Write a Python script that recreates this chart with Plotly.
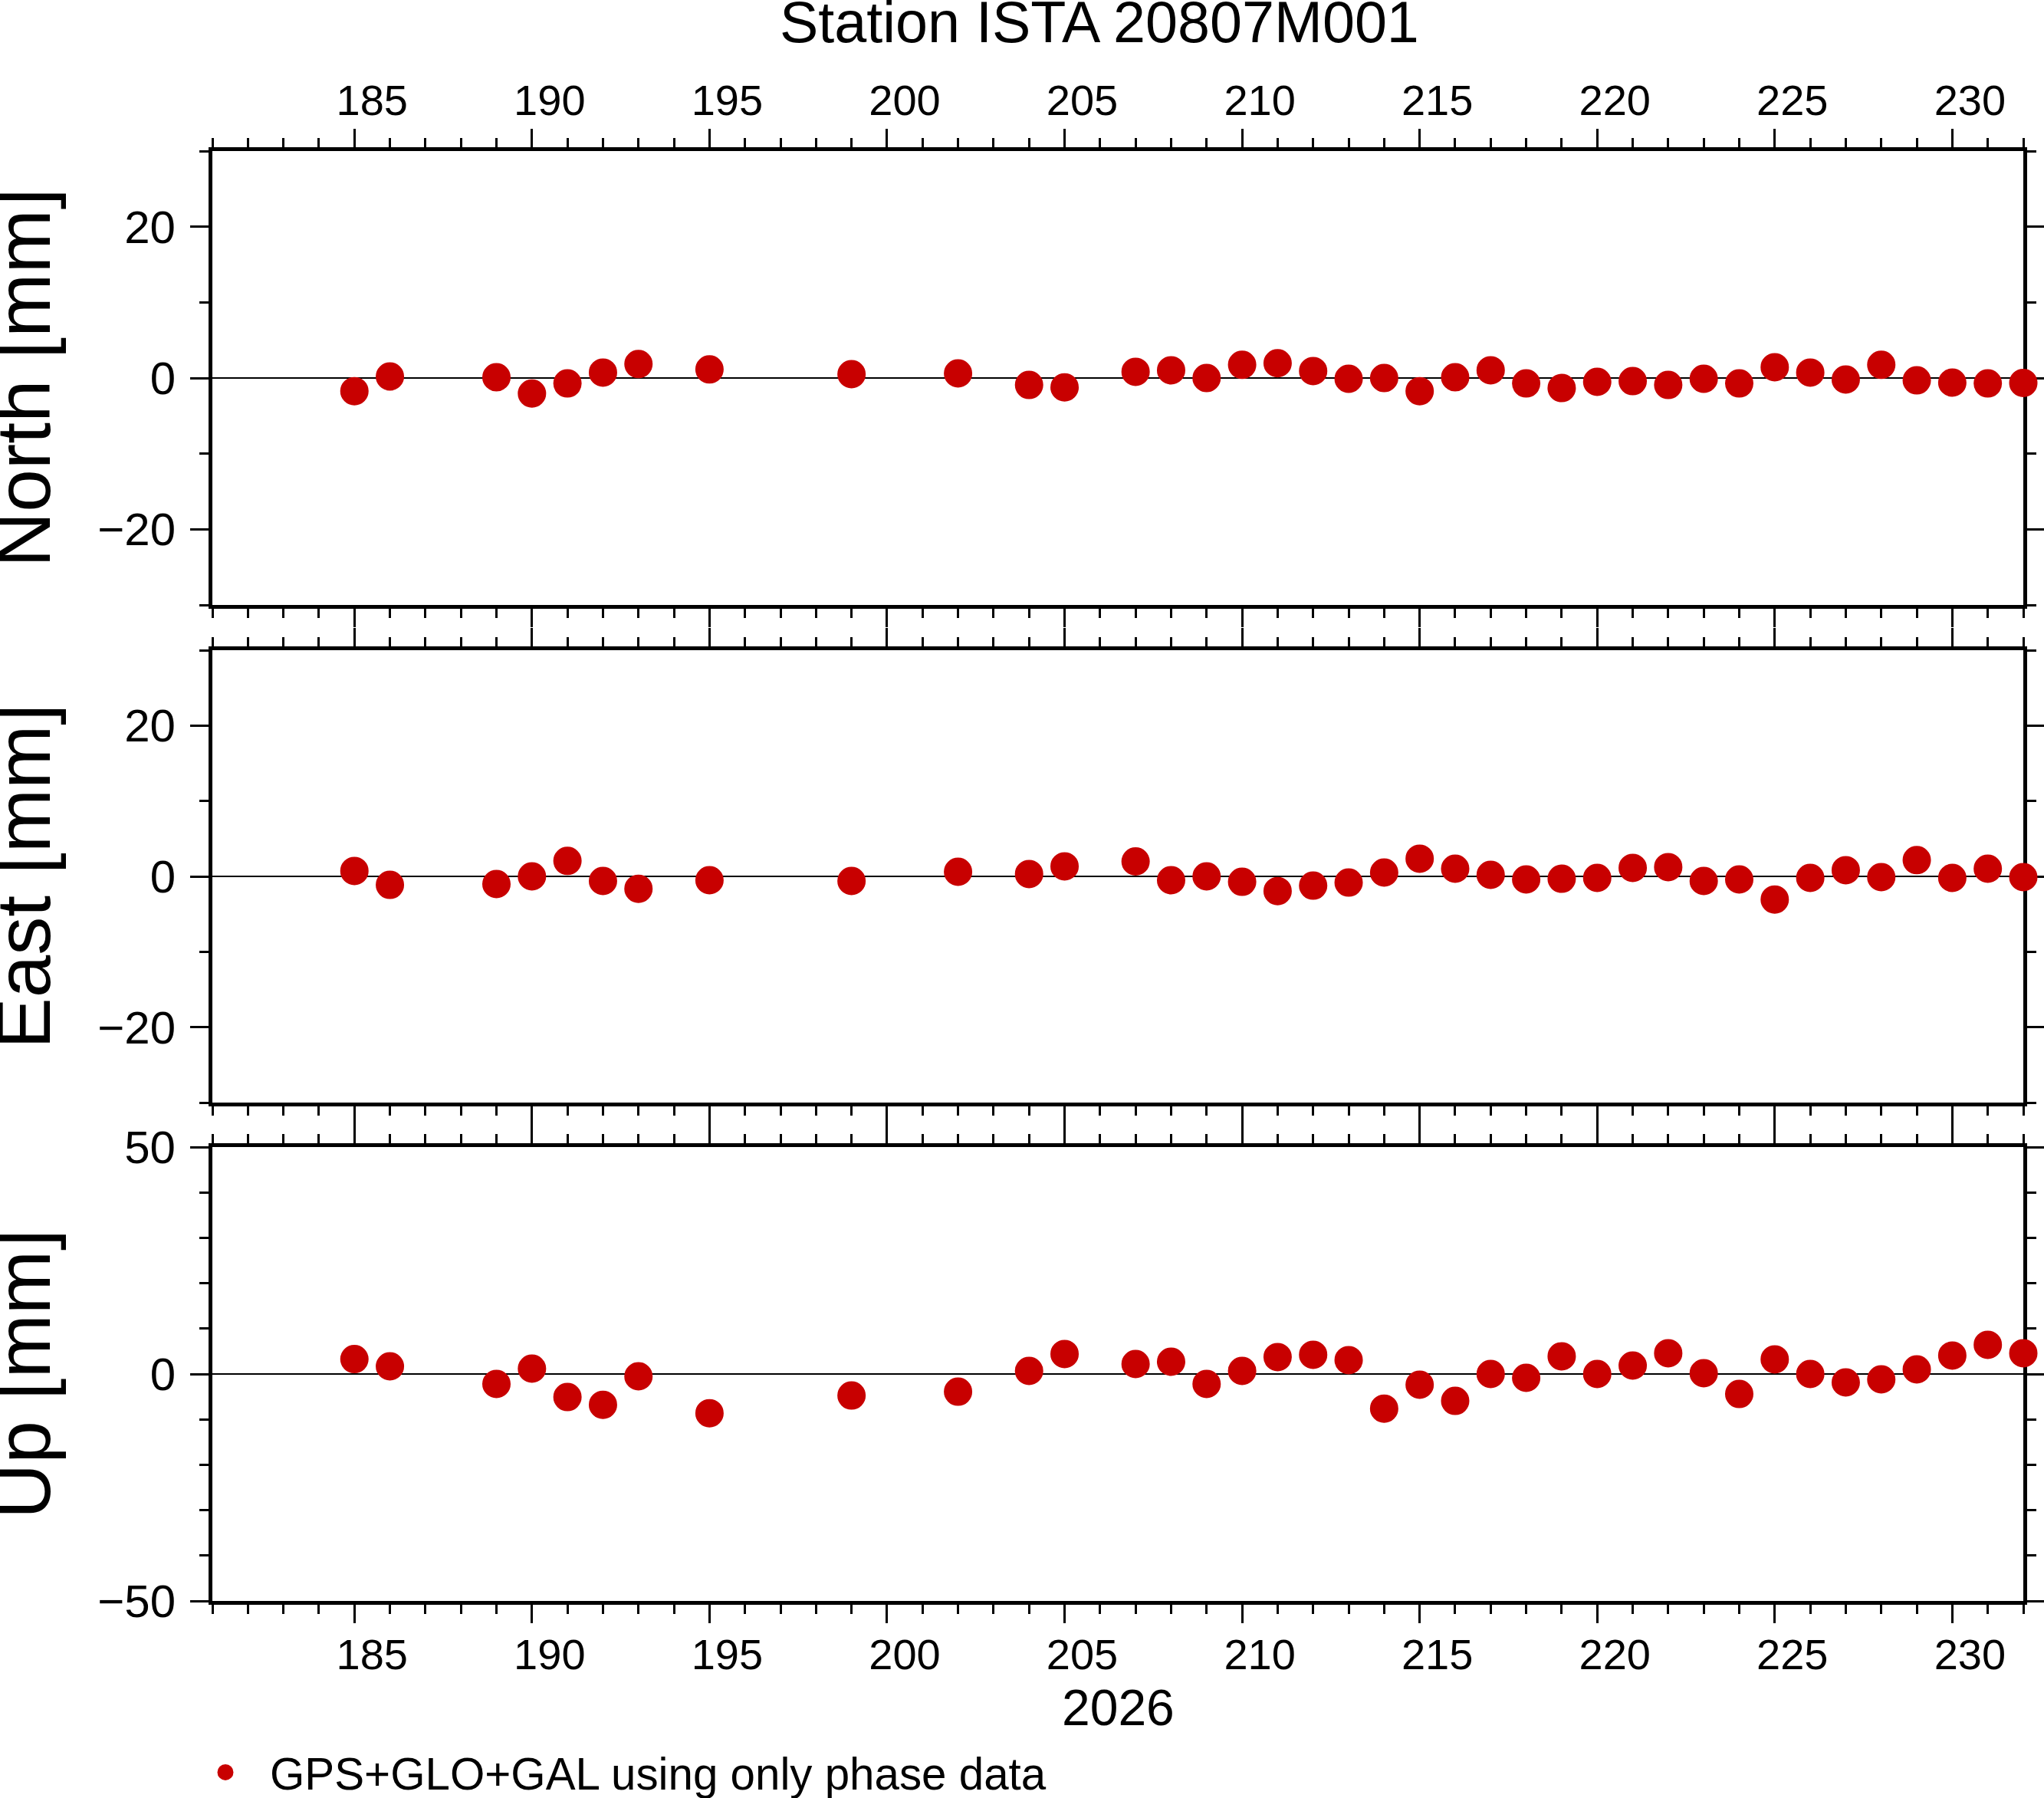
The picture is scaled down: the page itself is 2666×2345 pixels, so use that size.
import plotly.graph_objects as go

# day of year 2026
days = [185, 186, 189, 190, 191, 192, 193, 195, 199, 202, 204, 205,
        207, 208, 209, 210, 211, 212, 213, 214, 215, 216, 217, 218, 219,
        220, 221, 222, 223, 224, 225, 226, 227, 228, 229, 230, 231, 232]

north = [-1.74, 0.2, 0.1, -2.05, -0.72, 0.72, 1.84, 1.13, 0.51, 0.61, -0.92, -1.23,
         0.82, 1.02, 0.0, 1.74, 1.95, 0.92, -0.1, 0.0, -1.74, 0.1, 1.02, -0.72, -1.33,
         -0.51, -0.41, -0.92, -0.1, -0.72, 1.43, 0.72, -0.2, 1.74, -0.31, -0.61, -0.72, -0.65]

east = [0.72, -1.13, -1.02, 0.0, 2.05, -0.61, -1.64, -0.51, -0.61, 0.61, 0.31, 1.33,
        1.98, -0.51, 0.0, -0.72, -1.95, -1.23, -0.82, 0.51, 2.35, 1.02, 0.2, -0.41, -0.31,
        -0.2, 1.13, 1.23, -0.61, -0.41, -3.07, -0.2, 0.82, -0.1, 2.15, -0.2, 1.02, -0.1]

up = [3.28, 1.69, -2.2, 1.19, -5.08, -6.78, -0.51, -8.64, -4.75, -3.9, 0.68, 4.41,
      2.2, 2.71, -2.2, 0.68, 3.73, 4.24, 3.05, -7.63, -2.37, -5.93, 0.0, -0.85, 3.9,
      0.0, 1.86, 4.58, 0.17, -4.41, 3.22, 0.0, -1.86, -1.19, 1.02, 4.07, 6.44, 4.58]

panels = [("North [mm]", north, [-30, 30], 20), ("East [mm]", east, [-30, 30], 20),
          ("Up [mm]", up, [-50, 50], 50)]
series_name = "GPS+GLO+GAL using only phase data"
title = "Station ISTA 20807M001"
year = "2026"

RED = "#c80000"
FONT = "Liberation Sans"
W, H = 2666, 2345
L, R, T, B = 277, 27, 197, 257
ph = H - T - B
pw = W - L - R
domains = [[1 - 592 / ph, 1], [(2088 - 1438) / ph, (2088 - 848) / ph], [0, 592 / ph]]

fig = go.Figure()
for i, (label, vals, yr, dt) in enumerate(panels):
    n = "" if i == 0 else str(i + 1)
    fig.add_trace(go.Scatter(
        x=days, y=vals, mode="markers", name=series_name, showlegend=(i == 0),
        xaxis="x" + n, yaxis="y" + n, cliponaxis=False,
        marker=dict(color=RED, size=32, line=dict(color=RED, width=5))))
    common = dict(showline=True, linewidth=5, linecolor="black", mirror="allticks",
                  ticks="outside", ticklen=24, tickwidth=3, tickcolor="black",
                  showgrid=False, layer="below traces", automargin=False)
    fig.layout["xaxis" + n] = dict(
        common, domain=[0, 1], anchor="y" + n, range=[181, 232], tick0=185, dtick=5,
        zeroline=False, side="top" if i == 0 else "bottom",
        tickfont=dict(family=FONT, size=56, color="black"),
        showticklabels=(i != 1), ticklabelshift=23,
        ticklabelstandoff=-4 if i == 0 else -7,
        minor=dict(dtick=1, ticklen=12, tickwidth=3, tickcolor="black", ticks="outside"))
    fig.layout["yaxis" + n] = dict(
        common, domain=domains[i], anchor="x" + n, range=yr, tick0=0, dtick=dt,
        zeroline=True, zerolinecolor="black", zerolinewidth=1.5,
        tickfont=dict(family=FONT, size=60, color="black"),
        ticklabelstandoff=7,
        minor=dict(dtick=10, ticklen=12, tickwidth=3, tickcolor="black", ticks="outside"))
    fig.add_annotation(text=label, xref="paper", yref="y" + n + " domain",
                       x=(30 - L) / pw, y=0.5, xanchor="center", yanchor="middle",
                       textangle=-90, showarrow=False,
                       font=dict(family=FONT, size=100, color="black"))

fig.add_annotation(text=title, xref="paper", yref="paper",
                   x=(1434 - L) / pw, y=1 + (T - 29) / ph,
                   xanchor="center", yanchor="middle", showarrow=False,
                   font=dict(family=FONT, size=75.5, color="black"))
fig.add_annotation(text=year, xref="paper", yref="paper",
                   x=0.5, y=-(2227 - 2088) / ph, xanchor="center", yanchor="middle",
                   showarrow=False, font=dict(family=FONT, size=66, color="black"))

fig.update_layout(
    width=W, height=H, margin=dict(l=L, r=R, t=T, b=B, autoexpand=False),
    paper_bgcolor="white", plot_bgcolor="white",
    legend=dict(orientation="h", x=(236 - L) / pw, y=-(B + 11) / ph,
                xanchor="left", yanchor="bottom", bgcolor="rgba(0,0,0,0)",
                itemwidth=106,
                font=dict(family=FONT, size=58.3, color="black")),
)

fig.write_html("out.html", config={"displayModeBar": False},
               post_script="document.body.style.margin='0px';")
